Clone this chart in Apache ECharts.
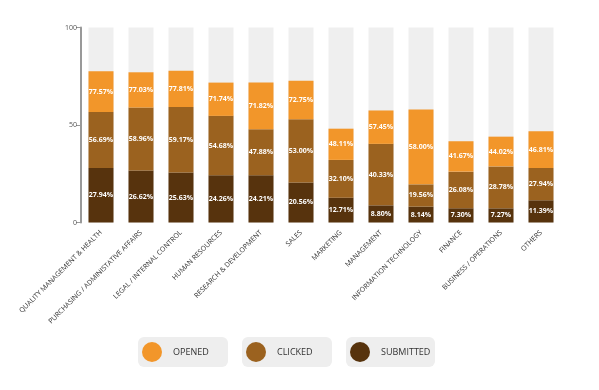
<!DOCTYPE html>
<html><head><meta charset="utf-8">
<script src="https://cdn.jsdelivr.net/npm/echarts@6/dist/echarts.min.js"></script>
<style>html,body{margin:0;padding:0;background:#fff}#c{width:599px;height:390px}</style>
</head><body><div id="c"></div>
<script>
const categories = ['QUALITY MANAGEMENT & HEALTH','PURCHASING / ADMINISTATIVE AFFAIRS','LEGAL / INTERNAL CONTROL','HUMAN RESOURCES','RESEARCH & DEVELOPMENT','SALES','MARKETING','MANAGEMENT','INFORMATION TECHNOLOGY','FINANCE','BUSINESS / OPERATIONS','OTHERS'];
const opened    = [77.57, 77.03, 77.81, 71.74, 71.82, 72.75, 48.11, 57.45, 58.00, 41.67, 44.02, 46.81];
const clicked   = [56.69, 58.96, 59.17, 54.68, 47.88, 53.00, 32.10, 40.33, 19.56, 26.08, 28.78, 27.94];
const submitted = [27.94, 26.62, 25.63, 24.26, 24.21, 20.56, 12.71, 8.80, 8.14, 7.30, 7.27, 11.39];
const yTicks = [0, 50, 100];

const cOpen = '#F2962A', cClick = '#9B621F', cSub = '#57330D';
const font = 'Open Sans';
const seg = (arr, base) => arr.map((v, i) => +(v - (base ? base[i] : 0)).toFixed(2));
const lbl = (orig) => ({
  show: true, position: 'inside', color: '#fff', fontSize: 7, fontWeight: 'bold', fontFamily: font,
  formatter: p => orig[p.dataIndex].toFixed(2) + '%'
});

const chart = echarts.init(document.getElementById('c'), null, {renderer: 'canvas'});
const legendBase = (name, left) => ({
  data: [name], left: left, top: 342, itemWidth: 20, itemHeight: 20, icon: 'circle', itemGap: 0,
  textStyle: {fontSize: 9, color: '#333', fontFamily: font, padding: [0, 0, 0, 6]},
  selectedMode: false, padding: 0
});
chart.setOption({
  animation: false,
  grid: {left: 81, width: 480, top: 27.5, bottom: 167.5},
  xAxis: {
    type: 'category', data: categories,
    axisLine: {show: false}, axisTick: {show: false},
    axisLabel: {rotate: 45, fontSize: 7, color: '#333', fontFamily: font, margin: 9, interval: 0}
  },
  yAxis: {
    type: 'value', min: 0, max: 100, interval: 50,
    axisLine: {show: true, lineStyle: {color: '#999', width: 2}},
    axisTick: {show: true, inside: false, length: 5, lineStyle: {color: '#999', width: 1}},
    splitLine: {show: false},
    axisLabel: {fontSize: 7, color: '#555', fontFamily: font, margin: 4,
      formatter: v => yTicks.includes(v) ? String(v) : ''}
  },
  legend: [legendBase('OPENED', 142), legendBase('CLICKED', 246), legendBase('SUBMITTED', 350)],
  graphic: [
    {type: 'rect', left: 138, top: 337, shape: {width: 90, height: 30, r: 6}, style: {fill: '#EEEEEE'}, z: -1},
    {type: 'rect', left: 242, top: 337, shape: {width: 90, height: 30, r: 6}, style: {fill: '#EEEEEE'}, z: -1},
    {type: 'rect', left: 346, top: 337, shape: {width: 89, height: 30, r: 6}, style: {fill: '#EEEEEE'}, z: -1}
  ],
  series: [
    {name: 'SUBMITTED', type: 'bar', stack: 't', barWidth: 25, data: seg(submitted),
     itemStyle: {color: cSub}, label: lbl(submitted),
     showBackground: true, backgroundStyle: {color: '#EFEFEF'}},
    {name: 'CLICKED', type: 'bar', stack: 't', barWidth: 25, data: seg(clicked, submitted),
     itemStyle: {color: cClick}, label: lbl(clicked)},
    {name: 'OPENED', type: 'bar', stack: 't', barWidth: 25, data: seg(opened, clicked),
     itemStyle: {color: cOpen}, label: lbl(opened)}
  ]
});
</script></body></html>
